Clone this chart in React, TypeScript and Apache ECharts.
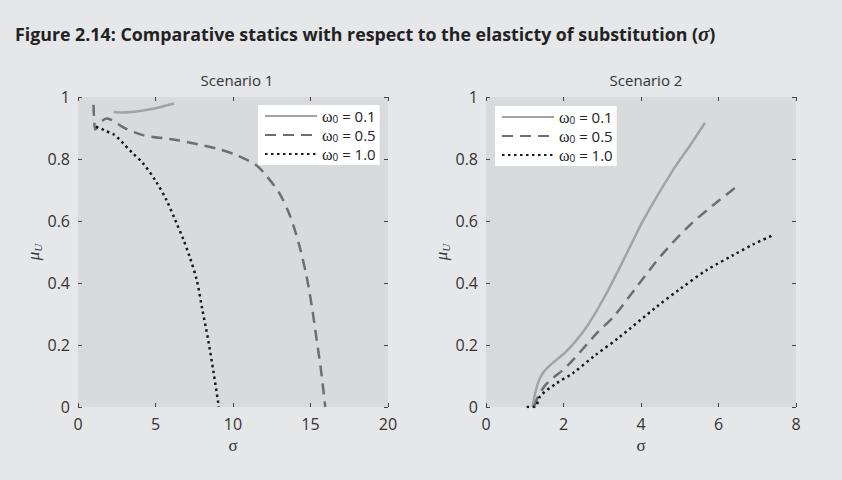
import React, { useEffect, useRef } from "react";
import * as echarts from "echarts";

// ---- data ----
const legendNames = ["0.1", "0.5", "1.0"];

const s1Omega01: [number, number][] = [
  [2.3, 0.952], [3.0, 0.95], [4.0, 0.955], [5.0, 0.964], [6.2, 0.979],
];
const s1Omega05: [number, number][] = [
  [1.0, 0.975], [1.04, 0.93], [1.12, 0.895], [1.4, 0.915], [1.85, 0.931],
  [3.0, 0.9], [4.2, 0.877], [6.37, 0.861], [8.9, 0.834], [10.2, 0.813],
  [11.5, 0.78], [12.2, 0.743], [13.0, 0.689], [13.7, 0.614], [14.3, 0.517],
  [14.75, 0.42], [15.1, 0.32], [15.4, 0.216], [15.7, 0.11], [15.95, 0.0],
];
const s1Omega10: [number, number][] = [
  [1.16, 0.904], [1.53, 0.897], [1.8, 0.89], [2.28, 0.88], [2.6, 0.867],
  [2.92, 0.85], [3.5, 0.82], [4.2, 0.786], [5.0, 0.73], [5.7, 0.668],
  [6.3, 0.6], [6.8, 0.54], [7.2, 0.485], [7.66, 0.41], [8.0, 0.32],
  [8.4, 0.216], [8.75, 0.11], [9.05, 0.013], [9.08, 0.0],
];

const s2Omega01: [number, number][] = [
  [1.2, 0.0], [1.28, 0.05], [1.38, 0.09], [1.5, 0.115], [1.7, 0.14],
  [2.08, 0.18], [2.6, 0.259], [3.11, 0.367], [3.65, 0.5],
  [4.06, 0.603], [4.83, 0.765], [5.3, 0.85], [5.65, 0.917],
];
const s2Omega05: [number, number][] = [
  [1.24, 0.0], [1.35, 0.035], [1.57, 0.076], [2.08, 0.13], [2.86, 0.238],
  [3.29, 0.291], [3.89, 0.388], [4.53, 0.49], [5.26, 0.587], [5.9, 0.655],
  [6.47, 0.711],
];
const s2Omega10: [number, number][] = [
  [1.05, 0.0], [1.26, 0.0], [1.4, 0.035], [1.8, 0.075], [2.25, 0.11],
  [2.8, 0.165], [3.41, 0.222], [4.4, 0.323], [5.0, 0.38], [5.7, 0.442],
  [6.38, 0.49], [6.9, 0.525], [7.37, 0.552],
];

const xTicks1 = { min: 0, max: 20, interval: 5 };
const xTicks2 = { min: 0, max: 8, interval: 2 };
const yTicks = { min: 0, max: 1, interval: 0.2 };

const styles = [
  { color: "#a3a3a3", type: "solid" as any, width: 2.5 },
  { color: "#6e6e6e", type: [11, 7] as any, width: 2.5 },
  { color: "#1a1a1a", type: [2.5, 3.5] as any, width: 2.5 },
];

export default function App() {
  const ref = useRef<HTMLDivElement>(null);
  useEffect(() => {
    document.body.style.margin = "0";
    const chart = echarts.init(ref.current!, undefined, { renderer: "svg" });
    const tickFont = { fontFamily: "Open Sans", fontSize: 16, color: "#333" };
    const grids = [
      { left: 78, top: 97, width: 310, height: 310 },
      { left: 486, top: 97, width: 310, height: 310 },
    ];
    const xr = [xTicks1, xTicks2];
    const tick = { show: true, inside: true, length: 4, lineStyle: { color: "#444" } };
    const xAxes: any[] = [];
    const yAxes: any[] = [];
    grids.forEach((_, g) => {
      const base = {
        gridIndex: g,
        type: "value",
        ...xr[g],
        splitLine: { show: false },
        axisLine: { show: false, onZero: false },
        axisTick: tick,
      };
      xAxes.push({
        ...base,
        position: "bottom",
        axisLabel: { ...tickFont, margin: 9 },
        name: "σ",
        nameLocation: "middle",
        nameGap: 21,
        nameTextStyle: { fontFamily: "Liberation Serif", fontSize: 17, color: "#333" },
      });
      xAxes.push({ ...base, position: "top", axisLabel: { show: false } });
      const ybase = {
        gridIndex: g,
        type: "value",
        ...yTicks,
        splitLine: { show: false },
        axisLine: { show: false, onZero: false },
        axisTick: tick,
      };
      yAxes.push({
        ...ybase,
        position: "left",
        axisLabel: { ...tickFont, margin: 8 },
        name: "{m|μ}{u|U}",
        nameLocation: "middle",
        nameGap: 28,
        nameRotate: 90,
        nameTextStyle: {
          rich: {
            m: { fontFamily: "Liberation Serif", fontStyle: "italic", fontSize: 17, color: "#333", lineHeight: 20 },
            u: { fontFamily: "Liberation Serif", fontStyle: "italic", fontSize: 11, color: "#333", lineHeight: 10, verticalAlign: "bottom" },
          },
        },
      });
      yAxes.push({ ...ybase, position: "right", axisLabel: { show: false } });
    });

    const datasets = [
      [s1Omega01, s1Omega05, s1Omega10],
      [s2Omega01, s2Omega05, s2Omega10],
    ];
    const series: any[] = [];
    datasets.forEach((ds, g) => {
      ds.forEach((d, i) => {
        series.push({
          type: "line",
          name: legendNames[i],
          xAxisIndex: g * 2,
          yAxisIndex: g * 2,
          data: d,
          symbol: "none",
          smooth: 0.3,
          lineStyle: styles[i],
          itemStyle: { color: styles[i].color },
        });
      });
    });

    const legendBase = {
      orient: "vertical",
      data: legendNames,
      itemWidth: 52,
      itemHeight: 14,
      itemGap: 3,
      backgroundColor: "#fff",
      padding: [3, 4, 3, 6],
      selectedMode: false,
      itemStyle: { opacity: 0 },
      formatter: (n: string) => `{w|ω}{s|0}{t| = ${n}}`,
      textStyle: {
        rich: {
          w: { fontFamily: "Liberation Serif", fontSize: 16, color: "#222", lineHeight: 15 },
          s: { fontFamily: "Open Sans", fontSize: 10, color: "#222", lineHeight: 8, verticalAlign: "bottom" },
          t: { fontFamily: "Open Sans", fontSize: 15, color: "#222", lineHeight: 15 },
        },
      },
    };

    chart.setOption({
      animation: false,
      backgroundColor: "#e6e7e8",
      title: [
        {
          text: "Figure 2.14: Comparative statics with respect to the elasticty of substitution ({s|σ})",
          left: 10,
          top: 18,
          textStyle: {
            fontFamily: "Open Sans",
            fontWeight: "bold",
            fontSize: 17.8,
            color: "#222",
            rich: {
              s: { fontFamily: "Liberation Serif", fontStyle: "italic", fontSize: 21, color: "#222" },
            },
          },
        },
        {
          text: "Scenario 1",
          left: 232,
          top: 67,
          textAlign: "center",
          textStyle: { fontFamily: "Open Sans", fontWeight: "normal", fontSize: 15, color: "#333" },
        },
        {
          text: "Scenario 2",
          left: 641,
          top: 67,
          textAlign: "center",
          textStyle: { fontFamily: "Open Sans", fontWeight: "normal", fontSize: 15, color: "#333" },
        },
      ],
      grid: grids.map((g) => ({ ...g, show: true, backgroundColor: "#d9dadb", borderWidth: 0 })),
      xAxis: xAxes,
      yAxis: yAxes,
      legend: [
        { ...legendBase, left: 258, top: 105 },
        { ...legendBase, left: 495, top: 106 },
      ],
      series,
    });
    return () => chart.dispose();
  }, []);
  return <div ref={ref} style={{ width: 842, height: 480 }} />;
}
